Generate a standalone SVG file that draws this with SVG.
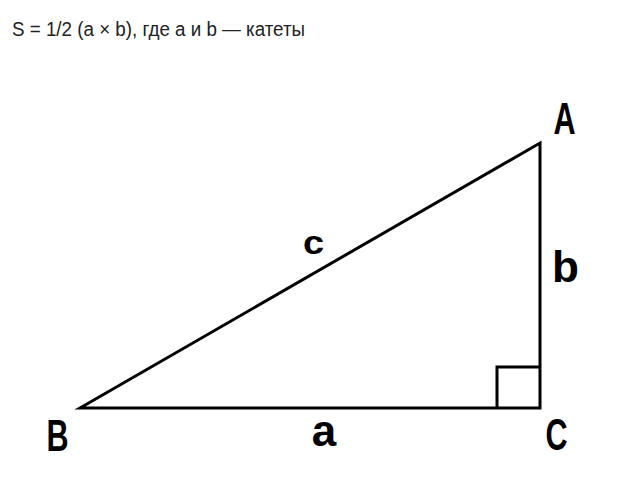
<svg xmlns="http://www.w3.org/2000/svg" width="630" height="491" viewBox="0 0 630 491">
<style>
.hdr{font-family:"Liberation Sans",Arial,sans-serif;font-size:19.5px;fill:#222}
.lbl{font-family:"Liberation Sans",Arial,sans-serif;font-weight:bold;fill:#000;text-anchor:middle}
.ln{fill:none;stroke:#000;stroke-width:3;stroke-linejoin:miter}
</style>
<rect width="630" height="491" fill="#fff"/>
<text class="hdr" x="12" y="36" textLength="293" lengthAdjust="spacingAndGlyphs">S = 1/2 (a × b), где a и b — катеты</text>
<g id="connectors">
<polygon class="ln" points="80,408 540,143 540,408"/>
<polyline class="ln" points="497,408 497,367 540,367"/>
</g>
<g id="A"><text class="lbl" font-size="45" transform="translate(564.5,134) scale(0.68,1)">A</text></g>
<g id="B"><text class="lbl" font-size="45" transform="translate(57.5,451) scale(0.68,1)">B</text></g>
<g id="C"><text class="lbl" font-size="45" transform="translate(556.5,450) scale(0.68,1)">C</text></g>
<g id="c"><text class="lbl" font-size="33" transform="translate(313.5,254) scale(1.15,1)">c</text></g>
<g id="a"><text class="lbl" font-size="44" x="324" y="446">a</text></g>
<g id="b"><text class="lbl" font-size="44" x="565.5" y="282">b</text></g>
</svg>
